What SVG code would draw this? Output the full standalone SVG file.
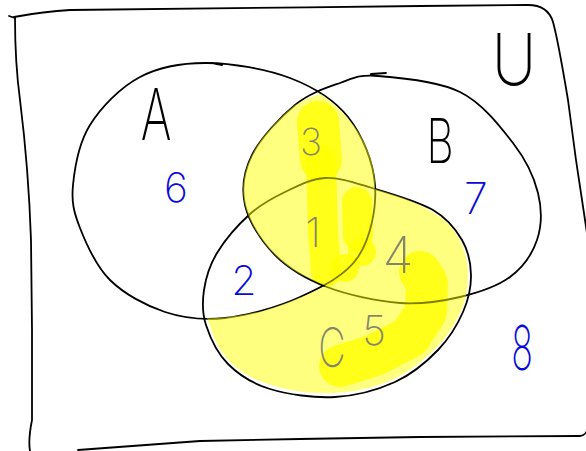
<svg xmlns="http://www.w3.org/2000/svg" width="586" height="451" viewBox="0 0 586 451">
<style>
.ink{fill:none;stroke:#000;stroke-width:1.8;stroke-linecap:round;stroke-linejoin:round}
.lbl{font-family:Inter,Lato,"Noto Sans",sans-serif;font-weight:200;fill:#000;text-anchor:middle}
.num{font-family:Inter,Lato,"Noto Sans",sans-serif;font-weight:200;fill:#0a0ad8;text-anchor:middle}
.patch{fill:none;stroke:#ffff00;stroke-opacity:0.8;stroke-linecap:round;stroke-linejoin:round}
.blob{fill:#ffff00;fill-opacity:0.8}
</style>
<rect width="586" height="451" fill="#fff"/>
<g id="highlight-strong">
<path class="patch" stroke-width="42" d="M318,122 L321,160"/>
<path class="patch" stroke-width="30" d="M321,160 L323,230 L326,272"/>
<path class="patch" stroke-width="30" d="M357,202 L358,236"/>
<path class="patch" stroke-width="42" d="M340,366 L375,355 L410,337 L426,312 L427,283 L420,272"/>
<circle class="blob" cx="345" cy="268" r="14"/>
<circle class="blob" cx="362" cy="252" r="14"/>
</g>
<g id="frame">
<path class="ink" d="M9,16 L15,18 M14,17 C30,14 50,11 70,10 C150,8 300,8 420,6 L528,5 C542,5 550,12 553,22 C558,40 563,70 568,100 L576,160 L588,240"/>
<path class="ink" d="M588,428 C586,434 584,436 580,436 L420,437 L300,439 L200,441 L78,450"/>
<path class="ink" d="M15,18 C15,40 16,70 20,100 C25,140 29,180 31,240 L32,330 L32,420 C30,430 28,440 30,451"/>
</g>
<g id="set-A">
<path class="ink" d="M207,63 C232,63.2 266.5,69 290,78 C313.5,87 333.8,99.2 348,117 C362.2,134.8 373.3,161.7 375,185 C376.7,208.3 370.5,238.3 358,257 C345.5,275.7 322.2,286.8 300,297 C277.8,307.2 247.5,315.5 225,318 C202.5,320.5 184.2,318.3 165,312 C145.8,305.7 124.2,294 110,280 C95.8,266 86.2,243.8 80,228 C73.8,212.2 71.3,202.2 73,185 C74.7,167.8 78.8,143 90,125 C101.2,107 120.5,87.3 140,77 C159.5,66.7 182,62.8 207,63 Z M212,63 L222,65"/>
</g>
<g id="set-B">
<path class="ink" d="M378,76 C398,77.5 437.5,80.8 460,92 C482.5,103.2 500,126.2 513,143 C526,159.8 534,176.8 538,193 C542,209.2 541.7,226 537,240 C532.3,254 522.8,267.5 510,277 C497.2,286.5 478.3,292.7 460,297 C441.7,301.3 422.2,304.7 400,303 C377.8,301.3 347.8,295 327,287 C306.2,279 288.7,268.7 275,255 C261.3,241.3 248.8,221.7 245,205 C241.2,188.3 243.7,171.7 252,155 C260.3,138.3 280.3,117 295,105 C309.7,93 326.2,87.8 340,83 C353.8,78.2 358,74.5 378,76 Z M371,74 L386,73"/>
</g>
<g id="set-C">
<path class="ink" d="M325,178 C339.5,177.3 354,182.7 372,188 C390,193.3 418,201.3 433,210 C448,218.7 455.7,229.2 462,240 C468.3,250.8 470.8,263 471,275 C471.2,287 468.5,299.5 463,312 C457.5,324.5 449.3,338.3 438,350 C426.7,361.7 412.2,374.2 395,382 C377.8,389.8 355.8,395.8 335,397 C314.2,398.2 287.8,394.5 270,389 C252.2,383.5 238.7,374.7 228,364 C217.3,353.3 210,337.3 206,325 C202,312.7 202.2,302 204,290 C205.8,278 209.3,265.7 217,253 C224.7,240.3 238.7,224.2 250,214 C261.3,203.8 272.5,198 285,192 C297.5,186 310.5,178.7 325,178 Z"/>
</g>
<g id="labels">
<text class="lbl" font-size="72" transform="translate(156,140) scale(0.65,1)">A</text>
<text class="lbl" font-size="62" transform="translate(440,163) scale(0.68,1)">B</text>
<text class="lbl" font-size="72" transform="translate(514,85) scale(0.85,1)">U</text>
<text class="num" font-size="54" transform="translate(332,367) scale(0.7,1)">C</text>
<text class="num" font-size="41" x="176" y="202">6</text>
<text class="num" font-size="43" x="476" y="214">7</text>
<text class="num" font-size="62" transform="translate(522,370) scale(0.58,1)">8</text>
<text class="num" font-size="41" x="244" y="295">2</text>
<text class="num" font-size="37" x="311" y="155">3</text>
<text class="num" font-size="41" x="313" y="247">1</text>
<text class="num" font-size="50" x="398" y="273">4</text>
<text class="num" font-size="41" x="374" y="345">5</text>
</g>
<g id="highlight">
<path fill="#ffff00" fill-opacity="0.5" d="M321,94 C336,104 352,120 362,138 C371,156 376,172 375,189 C395,195 418,202 432,212 C447,220 455,230 460,241 C466,252 468,263 468,275 C468,287 466,299 461,311 C455,324 447,337 436,348 C425,359 411,371 394,379 C377,387 355,392 335,393 C314,394 289,391 271,385 C254,380 240,372 230,362 C220,352 213,338 210,325 L207,318 C220,319 240,316 262,311 C280,306 300,298 315,291 L326,286 C305,278 288,268 275,255 C261,241 249,222 245,205 C241,188 244,171 252,155 C260,138 280,117 295,105 C305,99 313,96 321,94 Z"/>
</g>
</svg>
